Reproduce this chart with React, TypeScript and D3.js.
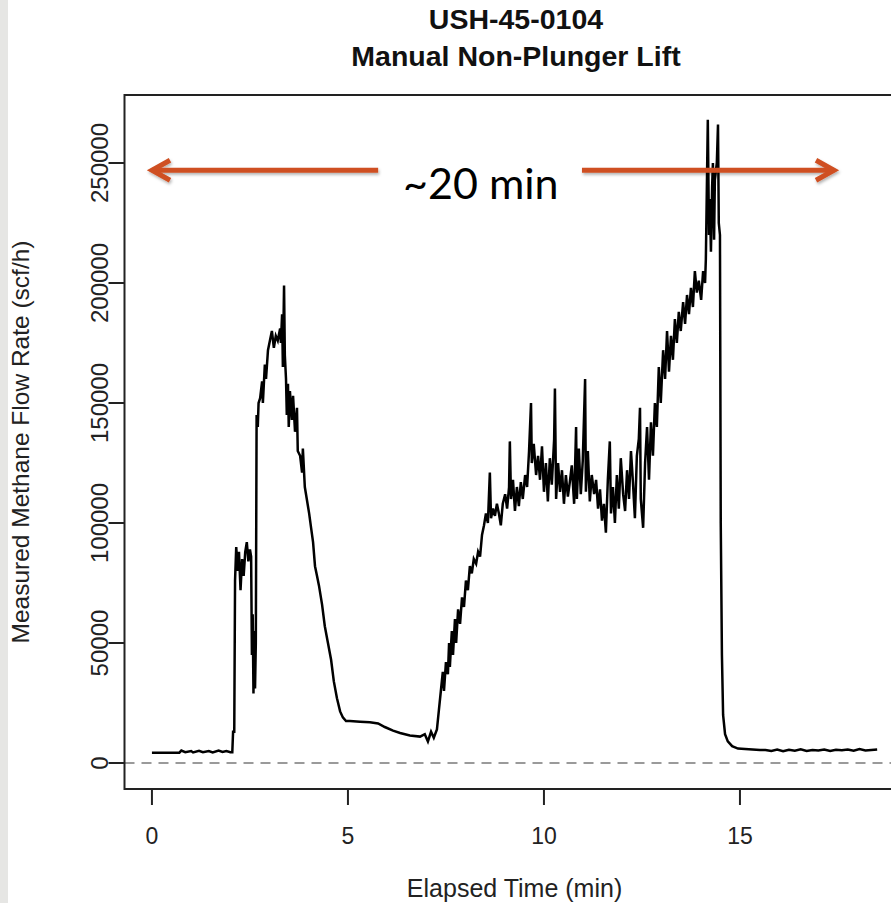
import React from "react";
import * as d3 from "d3";

// ---- data ----
const ELAPSED_MIN: number[] = [
  0.00, 0.35, 0.70, 0.75, 0.85, 1.00, 1.05, 1.20, 1.30, 1.45, 1.55, 1.70, 1.80, 1.90, 2.00, 2.05,
  2.07, 2.10, 2.12, 2.15, 2.19, 2.22, 2.26, 2.30, 2.34, 2.38, 2.42, 2.46, 2.50, 2.53, 2.55, 2.57,
  2.59, 2.61, 2.63, 2.65, 2.67, 2.70, 2.72, 2.76, 2.81, 2.83, 2.88, 2.91, 2.96, 3.01, 3.06, 3.11,
  3.16, 3.21, 3.27, 3.29, 3.32, 3.34, 3.37, 3.39, 3.42, 3.44, 3.47, 3.49, 3.52, 3.57, 3.60, 3.65,
  3.70, 3.72, 3.78, 3.83, 3.85, 3.90, 3.95, 4.01, 4.06, 4.11, 4.16, 4.21, 4.26, 4.34, 4.41, 4.49,
  4.57, 4.64, 4.72, 4.80, 4.87, 4.95, 5.05, 5.31, 5.56, 5.77, 5.94, 6.15, 6.33, 6.58, 6.84, 6.96,
  7.04, 7.12, 7.19, 7.27, 7.32, 7.37, 7.42, 7.45, 7.50, 7.55, 7.58, 7.60, 7.65, 7.68, 7.73, 7.76,
  7.81, 7.86, 7.91, 7.96, 8.01, 8.06, 8.11, 8.16, 8.21, 8.27, 8.32, 8.37, 8.42, 8.47, 8.52, 8.57,
  8.62, 8.65, 8.70, 8.75, 8.80, 8.85, 8.90, 8.95, 9.01, 9.06, 9.11, 9.13, 9.16, 9.21, 9.26, 9.31,
  9.36, 9.41, 9.46, 9.52, 9.57, 9.62, 9.67, 9.69, 9.74, 9.80, 9.85, 9.90, 9.95, 10.00, 10.05, 10.10,
  10.15, 10.20, 10.26, 10.28, 10.31, 10.36, 10.41, 10.46, 10.51, 10.56, 10.61, 10.66, 10.71, 10.77, 10.82, 10.84,
  10.89, 10.94, 10.99, 11.05, 11.07, 11.12, 11.17, 11.22, 11.28, 11.33, 11.38, 11.43, 11.48, 11.53, 11.58, 11.63,
  11.68, 11.71, 11.76, 11.81, 11.86, 11.91, 11.96, 12.02, 12.07, 12.12, 12.17, 12.22, 12.27, 12.32, 12.37, 12.42,
  12.45, 12.47, 12.53, 12.58, 12.63, 12.68, 12.73, 12.78, 12.83, 12.88, 12.93, 12.98, 13.04, 13.09, 13.14, 13.19,
  13.24, 13.29, 13.34, 13.39, 13.44, 13.49, 13.55, 13.60, 13.65, 13.70, 13.75, 13.80, 13.85, 13.90, 13.95, 14.01,
  14.06, 14.11, 14.13, 14.18, 14.21, 14.23, 14.26, 14.29, 14.31, 14.34, 14.36, 14.41, 14.44, 14.46, 14.49, 14.51,
  14.54, 14.57, 14.62, 14.69, 14.80, 14.95, 15.13, 15.51, 15.65, 15.80, 15.95, 16.10, 16.25, 16.40, 16.55, 16.70,
  16.85, 17.00, 17.15, 17.30, 17.45, 17.60, 17.75, 17.90, 18.05, 18.20, 18.35, 18.50,
];

const FLOW_SCFH: number[] = [
  4300, 4300, 4300, 5200, 4500, 5000, 4400, 5100, 4500, 5000, 4400, 5200, 4600, 5000, 4500, 4500,
  13000, 13000, 76000, 90000, 80000, 88000, 72000, 85000, 78000, 88000, 92000, 84000, 89000, 86000, 45000, 62000,
  29000, 55000, 31000, 50000, 145000, 140000, 150000, 152000, 159000, 150000, 166000, 160000, 172000, 176000, 180000, 173000,
  178000, 176000, 181000, 175000, 187000, 165000, 199000, 170000, 160000, 145000, 158000, 140000, 155000, 143000, 153000, 138000,
  148000, 130000, 128000, 121000, 131000, 115000, 110000, 104000, 98000, 92000, 82000, 78000, 74000, 66000, 57000, 50000,
  43000, 34000, 27000, 21500, 19000, 17500, 17500, 17200, 17000, 16500, 15000, 13500, 12500, 11500, 11000, 12000,
  9000, 13000, 10500, 14000, 22000, 30000, 38000, 30000, 42000, 37000, 50000, 40000, 55000, 45000, 60000, 50000,
  64000, 58000, 69000, 65000, 76000, 72000, 82000, 79000, 85000, 83000, 88000, 86000, 95000, 99000, 104000, 100000,
  121000, 102000, 106000, 103000, 108000, 104000, 99000, 108000, 112000, 106000, 115000, 134000, 110000, 118000, 105000, 115000,
  107000, 117000, 110000, 120000, 115000, 130000, 150000, 125000, 133000, 120000, 128000, 118000, 132000, 113000, 125000, 109000,
  127000, 116000, 135000, 156000, 110000, 125000, 113000, 122000, 108000, 120000, 111000, 117000, 124000, 108000, 140000, 110000,
  131000, 112000, 126000, 160000, 113000, 130000, 109000, 120000, 112000, 118000, 106000, 114000, 101000, 108000, 96000, 118000,
  134000, 104000, 115000, 100000, 120000, 106000, 127000, 112000, 105000, 122000, 110000, 130000, 117000, 102000, 128000, 135000,
  148000, 110000, 98000, 125000, 140000, 118000, 142000, 128000, 150000, 140000, 165000, 150000, 172000, 160000, 180000, 163000,
  178000, 168000, 185000, 175000, 188000, 180000, 192000, 183000, 195000, 187000, 198000, 190000, 205000, 196000, 201000, 193000,
  205000, 200000, 210000, 268000, 220000, 235000, 213000, 240000, 250000, 218000, 243000, 250000, 266000, 225000, 220000, 100000,
  45000, 20000, 12000, 9000, 7000, 6000, 5800, 5400, 5400, 5000, 5600, 4900, 5500, 5100, 5700, 5000,
  5400, 5200, 5600, 5000, 5500, 5300, 5600, 5100, 5800, 5200, 5400, 5600,
];

const X_TICKS: number[] = [0, 5, 10, 15];
const Y_TICKS: number[] = [0, 50000, 100000, 150000, 200000, 250000];
const TITLE_LINES: string[] = ["USH-45-0104", "Manual Non-Plunger Lift"];
const X_LABEL = "Elapsed Time (min)";
const Y_LABEL = "Measured Methane Flow Rate (scf/h)";
const ANNOT_TEXT = "~20 min";
// annotation arrow span in data units: [left tip, left end, text centre, right start, right tip], height
const ANNOT_T: number[] = [-0.05, 5.77, 8.39, 10.97, 17.45];
const ANNOT_V = 247000;

const W = 891;
const H = 903;
const ORANGE = "#cf5022";

export default function App() {
  const x = d3.scaleLinear().domain([-0.7, 19.2]).range([124.5, 904.6]);
  const y = d3.scaleLinear().domain([-10833, 278333]).range([789, 95]);
  const data = ELAPSED_MIN.map((t, i) => [t, FLOW_SCFH[i]] as [number, number]);
  const line = d3
    .line<[number, number]>()
    .x((d) => x(d[0]))
    .y((d) => y(d[1]));

  const [x0, x1] = x.range();
  const [yb, yt] = y.range();
  const font = "'Liberation Sans', Arial, Helvetica, sans-serif";
  const ay = y(ANNOT_V);
  const la = x(ANNOT_T[0]);
  const lb = x(ANNOT_T[1]);
  const tc = x(ANNOT_T[2]);
  const rb = x(ANNOT_T[3]);
  const ra = x(ANNOT_T[4]);

  return (
    <svg
      width={W}
      height={H}
      viewBox={`0 0 ${W} ${H}`}
      style={{ position: "absolute", left: 0, top: 0, background: "#fff" }}
    >
      <defs>
        <clipPath id="plotclip">
          <rect x={x0} y={yt} width={x1 - x0} height={yb - yt} />
        </clipPath>
        <filter id="shadow" x="-5%" y="-50%" width="110%" height="250%">
          <feDropShadow dx="1" dy="2" stdDeviation="1.5" floodColor="#000" floodOpacity="0.3" />
        </filter>
      </defs>
      <rect x={0} y={0} width={W} height={H} fill="#fff" />
      <rect x={0} y={0} width={8} height={H} fill="#e6e6e4" />

      {/* title */}
      {TITLE_LINES.map((t, i) => (
        <text
          key={t}
          x={516}
          y={29 + i * 37}
          textAnchor="middle"
          fontFamily={font}
          fontWeight="bold"
          fontSize={28.5}
          fill="#111"
        >
          {t}
        </text>
      ))}

      {/* zero reference line */}
      <line
        x1={x0}
        x2={x1}
        y1={y(0)}
        y2={y(0)}
        stroke="#9a9a9a"
        strokeWidth={1.8}
        strokeDasharray="10 7"
      />

      {/* data */}
      <path
        d={line(data) || ""}
        fill="none"
        stroke="#000"
        strokeWidth={2.5}
        strokeLinejoin="miter"
        clipPath="url(#plotclip)"
      />

      {/* box */}
      <rect x={x0} y={yt} width={x1 - x0} height={yb - yt} fill="none" stroke="#222" strokeWidth={2} />

      {/* x axis */}
      {X_TICKS.map((t) => (
        <g key={t}>
          <line x1={x(t)} x2={x(t)} y1={yb} y2={yb + 16} stroke="#222" strokeWidth={2} />
          <text x={x(t)} y={844} textAnchor="middle" fontFamily={font} fontSize={23} fill="#222">
            {t}
          </text>
        </g>
      ))}
      <text x={(x0 + x1) / 2} y={897} textAnchor="middle" fontFamily={font} fontSize={25} fill="#222">
        {X_LABEL}
      </text>

      {/* y axis */}
      {Y_TICKS.map((v) => (
        <g key={v}>
          <line x1={x0 - 16} x2={x0} y1={y(v)} y2={y(v)} stroke="#222" strokeWidth={2} />
          <text
            transform={`translate(108,${y(v)}) rotate(-90)`}
            textAnchor="middle"
            fontFamily={font}
            fontSize={24}
            fill="#222"
          >
            {v}
          </text>
        </g>
      ))}
      <text
        transform={`translate(29,${(yt + yb) / 2}) rotate(-90)`}
        textAnchor="middle"
        fontFamily={font}
        fontSize={24.5}
        fill="#222"
      >
        {Y_LABEL}
      </text>

      {/* annotation */}
      <g stroke={ORANGE} strokeWidth={5} fill="none" strokeLinecap="butt" filter="url(#shadow)">
        <line x1={la + 2} x2={lb} y1={ay} y2={ay} />
        <polyline points={`${la + 20},${ay - 10} ${la + 2},${ay} ${la + 20},${ay + 10}`} strokeLinejoin="miter" />
        <line x1={rb} x2={ra - 2} y1={ay} y2={ay} />
        <polyline points={`${ra - 20},${ay - 10} ${ra - 2},${ay} ${ra - 20},${ay + 10}`} strokeLinejoin="miter" />
      </g>
      <text x={tc} y={ay + 29} textAnchor="middle" fontFamily="Lato, 'Open Sans', sans-serif" fontSize={43} fill="#000">
        {ANNOT_TEXT}
      </text>
    </svg>
  );
}
